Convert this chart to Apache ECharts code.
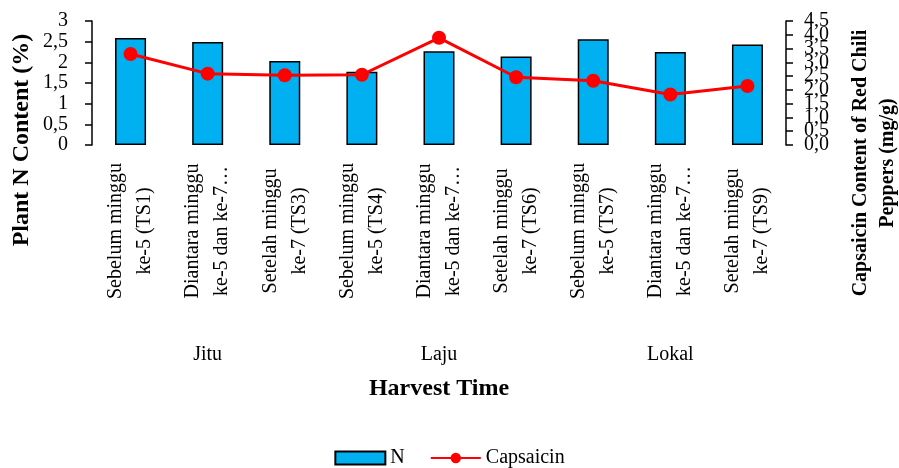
<!DOCTYPE html>
<html>
<head>
<meta charset="utf-8">
<script src="https://cdn.jsdelivr.net/npm/echarts@6/dist/echarts.min.js"></script>
<style>html,body{margin:0;padding:0;background:#fff;}#c{width:899px;height:468px;}</style>
</head>
<body>
<div id="c"></div>
<script>
var categories = [
  'Sebelum minggu\nke-5 (TS1)',
  'Diantara minggu\nke-5 dan ke-7\u2026',
  'Setelah minggu\nke-7 (TS3)',
  'Sebelum minggu\nke-5 (TS4)',
  'Diantara minggu\nke-5 dan ke-7\u2026',
  'Setelah minggu\nke-7 (TS6)',
  'Sebelum minggu\nke-5 (TS7)',
  'Diantara minggu\nke-5 dan ke-7\u2026',
  'Setelah minggu\nke-7 (TS9)'
];
var groups = ['Jitu', 'Laju', 'Lokal'];
var nValues = [2.59, 2.49, 2.03, 1.77, 2.27, 2.14, 2.56, 2.25, 2.43];
var capsaicinValues = [3.30, 2.59, 2.53, 2.55, 3.89, 2.46, 2.33, 1.83, 2.14];

var FONT = 'Liberation Serif';
function comma(v, d) { return (d ? v.toFixed(d) : String(v)).replace('.', ','); }
function isWhole(v) { return Math.abs(v - Math.round(v)) < 1e-6; }

var rightLabelBase = { margin: 18, fontSize: 20, fontFamily: FONT, color: '#000', showMinLabel: true, showMaxLabel: true };

var chart = echarts.init(document.getElementById('c'));
chart.setOption({
  animation: false,
  backgroundColor: '#fff',
  textStyle: { fontFamily: FONT, color: '#000' },
  grid: { left: 92, right: 113, top: 21, bottom: 323, containLabel: false },
  xAxis: [{
    type: 'category',
    data: categories,
    axisLine: { show: false },
    axisTick: { show: false },
    axisLabel: {
      interval: 0, rotate: 90, align: 'center', verticalAlign: 'middle',
      margin: 86, fontSize: 20, lineHeight: 29, fontFamily: FONT, color: '#000'
    }
  }, {
    type: 'category',
    data: groups,
    position: 'bottom',
    offset: 194,
    axisLine: { show: false },
    axisTick: { show: false },
    axisLabel: { interval: 0, margin: 6, fontSize: 20, fontFamily: FONT, color: '#000' },
    name: 'Harvest Time',
    nameLocation: 'middle',
    nameGap: 38,
    nameTextStyle: { fontSize: 24, fontWeight: 'bold', fontFamily: FONT, color: '#000' }
  }],
  yAxis: [{
    type: 'value', min: 0, max: 3, interval: 0.5,
    axisLine: { show: true, lineStyle: { color: '#000', width: 1.5 } },
    axisTick: { show: true, length: 7, lineStyle: { color: '#000', width: 1.5 } },
    splitLine: { show: false },
    axisLabel: { margin: 24, fontSize: 20, fontFamily: FONT, color: '#000', showMinLabel: true, showMaxLabel: true, formatter: function (v) { return comma(v); } }
  }, {
    type: 'value', min: 0, max: 4.5, interval: 0.5, position: 'right',
    axisLine: { show: true, lineStyle: { color: '#000', width: 1.5 } },
    axisTick: { show: true, length: 7, lineStyle: { color: '#000', width: 1.5 } },
    splitLine: { show: false },
    axisLabel: Object.assign({}, rightLabelBase, { formatter: function (v) { return isWhole(v) ? comma(v, 1) : ''; } })
  }, {
    type: 'value', min: 0, max: 4.5, interval: 0.5, position: 'right',
    axisLine: { show: false },
    axisTick: { show: false },
    splitLine: { show: false },
    axisLabel: Object.assign({}, rightLabelBase, { formatter: function (v) { return isWhole(v) ? '' : comma(v, 1); } })
  }],
  legend: {
    data: [{ name: 'N', icon: 'rect' }, { name: 'Capsaicin' }],
    left: 'center', top: 443,
    itemWidth: 50, itemHeight: 13, itemGap: 25,
    textStyle: { fontSize: 20, fontFamily: FONT, color: '#000' }
  },
  graphic: [{
    type: 'text', x: 22, y: 140, rotation: Math.PI / 2,
    style: { text: 'Plant N Content (%)', font: 'bold 24px "Liberation Serif"', fill: '#000', align: 'center', verticalAlign: 'middle' }
  }, {
    type: 'text', x: 874, y: 163, rotation: Math.PI / 2,
    style: { text: 'Capsaicin Content of Red Chili\nPeppers (mg/g)', font: 'bold 20px "Liberation Serif"', lineHeight: 27, fill: '#000', align: 'center', verticalAlign: 'middle' }
  }],
  series: [{
    name: 'N', type: 'bar', data: nValues, barWidth: 31,
    itemStyle: { color: '#00B0F0', borderColor: '#000', borderWidth: 1.5 }
  }, {
    name: 'Capsaicin', type: 'line', yAxisIndex: 1, data: capsaicinValues,
    symbol: 'circle', symbolSize: 14,
    lineStyle: { color: '#FF0000', width: 3 },
    itemStyle: { color: '#FF0000' }
  }]
});
</script>
</body>
</html>
